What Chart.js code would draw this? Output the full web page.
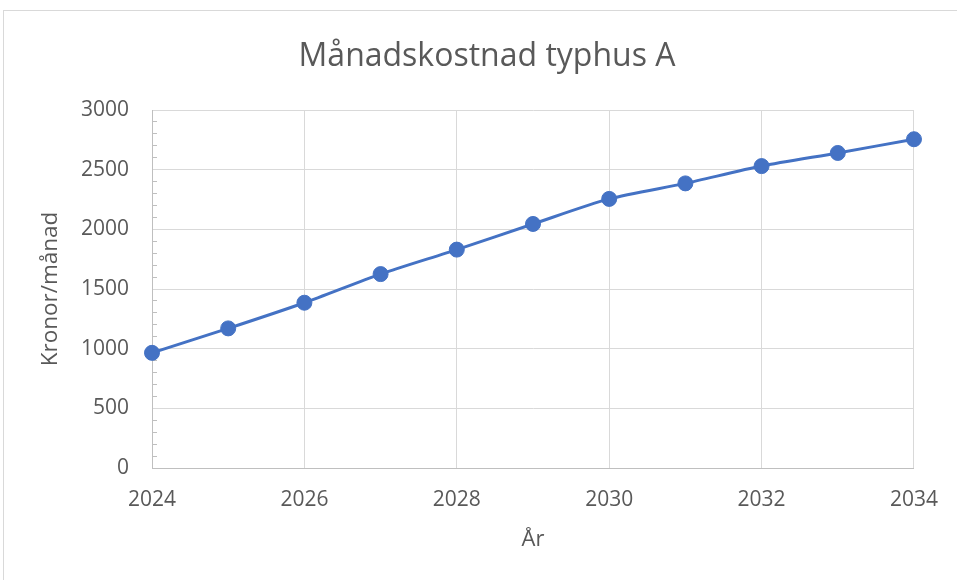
<!DOCTYPE html>
<html>
<head>
<meta charset="utf-8">
<script src="https://cdn.jsdelivr.net/npm/chart.js@4.4.1/dist/chart.umd.min.js"></script>
<style>
body { margin: 0; background: #fff; overflow: hidden; }
#wrap { position: relative; width: 957px; height: 580px; }
#frame { position: absolute; left: 3px; top: 10px; width: 1000px; height: 1000px; border: 1px solid #d9d9d9; pointer-events: none; }
</style>
</head>
<body>
<div id="wrap">
  <canvas id="cost" width="957" height="580"></canvas>
  <div id="frame"></div>
</div>
<script>
// years and monthly cost (kronor/månad)
const years = [2024, 2025, 2026, 2027, 2028, 2029, 2030, 2031, 2032, 2033, 2034];
const cost = [965, 1170, 1385, 1625, 1830, 2045, 2255, 2385, 2530, 2640, 2755];

const xMin = 2024, xMax = 2034, xStep = 2;
const yMin = 0, yMax = 3000, yStep = 500, yMinorStep = 100;

const grey = '#595959';
const fontFam = "'Open Sans', 'Noto Sans', sans-serif";

const ctx = document.getElementById('cost').getContext('2d');
const myChart = new Chart(ctx, {
  type: 'line',
  data: {
    datasets: [{
      data: years.map((y, i) => ({x: y, y: cost[i]})),
      borderColor: '#4472c4',
      backgroundColor: '#4472c4',
      borderWidth: 3,
      pointRadius: 7.5,
      pointBorderWidth: 1,
      pointBorderColor: '#4472c4',
      pointBackgroundColor: '#4472c4',
      tension: 0.25,
      clip: false
    }]
  },
  options: {
    responsive: false,
    devicePixelRatio: 1,
    animation: false,
    // left padding 60 so the title centres like the reference
    layout: {
      padding: {left: 60, right: 43, top: 0, bottom: 0}
    },
    plugins: {
      legend: {display: false},
      tooltip: {enabled: false},
      title: {
        display: true,
        text: 'Månadskostnad typhus A',
        color: grey,
        font: {family: fontFam, size: 32, weight: 'normal'},
        padding: {top: 37.4, bottom: 34.2}
      }
    },
    scales: {
      x: {
        type: 'linear',
        min: xMin,
        max: xMax,
        afterFit: s => { s.height = 112; },
        grid: {
          color: '#d9d9d9',
          drawTicks: false
        },
        border: {color: '#bfbfbf', width: 1},
        ticks: {
          stepSize: xStep,
          color: grey,
          padding: 19,
          font: {family: fontFam, size: 21},
          callback: v => String(v)
        },
        title: {
          display: true,
          text: 'År',
          color: grey,
          font: {family: fontFam, size: 22},
          padding: {top: 0, bottom: 27}
        }
      },
      y: {
        min: yMin,
        max: yMax,
        afterFit: s => { s.width = 92; },
        grid: {
          color: c => (c.tick && c.tick.value % yStep === 0) ? '#d9d9d9' : 'rgba(0,0,0,0)',
          tickColor: c => (c.tick && c.tick.value % yStep !== 0) ? '#bfbfbf' : 'rgba(0,0,0,0)',
          drawTicks: true,
          tickLength: -5
        },
        border: {color: '#bfbfbf', width: 1},
        ticks: {
          stepSize: yMinorStep,
          autoSkip: false,
          color: grey,
          padding: 28,
          font: {family: fontFam, size: 21},
          callback: v => (v % yStep === 0) ? String(v) : ''
        },
        title: {
          display: true,
          text: 'Kronor/månad',
          color: grey,
          font: {family: fontFam, size: 22.5},
          padding: {top: -23, bottom: 0}
        }
      }
    }
  }
});
</script>
</body>
</html>
